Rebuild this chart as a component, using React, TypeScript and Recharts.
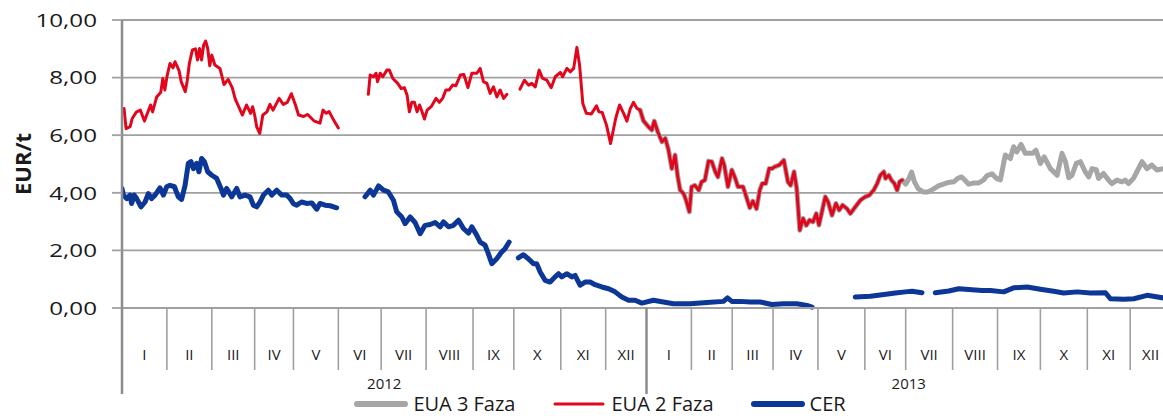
import React from 'react';
import { LineChart, Line, XAxis, YAxis, CartesianGrid, Legend } from 'recharts';

// ---------- categories / tick labels ----------
const monthLabels = ['I', 'II', 'III', 'IV', 'V', 'VI', 'VII', 'VIII', 'IX', 'X', 'XI', 'XII'];
const yearLabels = ['2012', '2013'];
// trading days per month, Jan 2012 .. Dec 2013
const monthTradingDays = [22, 22, 21, 19, 22, 21, 22, 23, 20, 23, 22, 20, 22, 20, 20, 22, 23, 20, 23, 22, 21, 23, 21, 20];
const yTicks = [0, 2, 4, 6, 8, 10];
const seriesNames = ['EUA 3 Faza', 'EUA 2 Faza', 'CER'];

// ---------- series values: [trading day, EUR/t] ----------
const eua2Points: [number, number | null][] = [
  [1, 6.93], [2, 6.23], [4, 6.3], [5, 6.58], [7, 6.8], [9, 6.87], [11, 6.49], [14, 7.05], [15, 6.81], [17, 7.33],
  [19, 7.49], [20, 7.97], [21, 7.57], [22, 8.03], [23.5, 8.49], [25, 8.34], [26, 8.55], [28, 8.23], [29, 7.86], [31, 7.51],
  [32, 7.91], [33, 8.49], [34.5, 8.96], [36, 9.0], [37, 8.61], [38, 9.01], [39, 8.61], [40, 9.13], [41, 9.27], [42, 9.01],
  [43, 8.41], [44, 8.78], [45.5, 8.44], [48, 8.32], [50, 7.76], [52, 7.94], [54, 7.65], [55.5, 7.25], [57, 7.02], [59, 6.7],
  [61, 7.05], [63, 6.76], [64, 6.99], [65, 6.7], [66, 6.29], [67.5, 6.06], [69, 6.7], [71, 6.81], [72.5, 7.07], [74, 6.87],
  [77, 7.28], [79, 7.07], [81, 7.14], [83, 7.44], [85, 7.05], [86.5, 6.7], [89, 6.65], [91, 6.72], [94, 6.5], [97, 6.42],
  [98.5, 6.87], [100, 6.76], [101.5, 6.82], [103.5, 6.55], [106, 6.25],
  [113, null],
  [120.7, 7.42], [121.6, 8.09], [123.2, 8.03], [124.5, 8.15], [125.2, 7.86], [126.5, 8.15], [127.8, 8.03], [129.8, 8.26],
  [131, 8.26], [132.7, 7.97], [135.1, 7.8], [136.8, 7.62], [138.4, 7.65], [139.7, 7.39], [140.8, 6.81], [142, 7.14],
  [143.3, 7.14], [144.6, 6.81], [145.8, 7.05], [146.9, 6.84], [148.2, 6.56], [149.5, 6.87], [151.5, 6.99], [153.9, 7.28],
  [155.5, 7.14], [157.1, 7.28], [158.7, 7.57], [160.3, 7.57], [162, 7.74], [163.6, 7.72], [165.8, 8.09], [167.5, 8.11],
  [169.5, 7.65], [171.4, 8.15], [173.9, 8.15], [175.5, 8.32], [177.1, 7.86], [178.8, 7.8], [180.4, 7.45], [182, 7.68],
  [183.7, 7.33], [185.3, 7.57], [187, 7.28], [188.6, 7.42],
  [192, null],
  [195, 7.6], [197.2, 7.91], [199.2, 7.74], [200.8, 7.8], [202.5, 7.68], [204.4, 8.26], [206.1, 7.97], [208.2, 7.91],
  [210.3, 7.65], [212.3, 8.03], [214.8, 8.18], [215.9, 8.03], [218, 8.32], [219.6, 8.2], [221.3, 8.32], [222.9, 9.05],
  [224.2, 8.44], [225.8, 7.1], [227.5, 6.76], [230, 6.74], [232.5, 7.02], [233.7, 6.81], [235.3, 6.79], [237.4, 6.35],
  [239.4, 5.71], [241.9, 6.58], [243.8, 7.05], [246, 6.72], [247.4, 6.49], [249.1, 6.93], [250.6, 7.14], [252.3, 6.93],
  [253.9, 6.87], [255.5, 6.5], [258, 6.29], [259.6, 6.18], [260.8, 6.49], [262.5, 6.12], [264.6, 5.77], [266.2, 5.89],
  [267.8, 5.48], [269.4, 4.84], [271, 5.31], [272.2, 4.61], [273.5, 4.09], [275.2, 3.97], [276.4, 3.74], [278, 3.34],
  [279.1, 4.21], [280.7, 4.26], [282.6, 4.09], [284, 4.38], [285.6, 4.44], [287.4, 5.1], [289, 5.08], [290.7, 4.73],
  [292, 4.55], [294, 5.19], [295.1, 4.96], [296.9, 4.21], [298.8, 4.79], [300.5, 4.5], [301.8, 4.21], [304.3, 4.21],
  [305.9, 3.86], [307.6, 3.48], [309.1, 3.71], [310.9, 3.45], [312.5, 4.09], [313.7, 4.32], [315.4, 4.32], [317.1, 4.84],
  [318.6, 4.84], [319.7, 4.9], [322, 4.96], [324.3, 5.13], [326.3, 4.38], [327.6, 4.26], [329.3, 4.73], [330.6, 4.15],
  [332.1, 2.7], [333.7, 3.11], [335.3, 2.87], [336.9, 3.05], [338.6, 2.99], [340.2, 3.28], [341.5, 2.88], [344.6, 3.86],
  [346, 3.68], [347.9, 3.22], [349.8, 3.63], [351.4, 3.4], [353.1, 3.57], [355.2, 3.45], [356.9, 3.28], [359.3, 3.51],
  [361.8, 3.74], [364.2, 3.86], [366.2, 3.92], [368.3, 4.09], [370, 4.32], [371.6, 4.61], [373.3, 4.73], [374.1, 4.5],
  [375.7, 4.61], [377, 4.44], [378.5, 4.32], [379.8, 4.09], [381, 4.38], [382.3, 4.44],
];

const eua3Points: [number, number | null][] = [
  [253.9, 6.87], [255.5, 6.5], [258, 6.29], [259.6, 6.18], [260.8, 6.49], [262.5, 6.12], [264.6, 5.77], [266.2, 5.89],
  [267.8, 5.48], [269.4, 4.84], [271, 5.31], [272.2, 4.61], [273.5, 4.09], [275.2, 3.97], [276.4, 3.74], [278, 3.34],
  [279.1, 4.21], [280.7, 4.26], [282.6, 4.09], [284, 4.38], [285.6, 4.44], [287.4, 5.1], [289, 5.08], [290.7, 4.73],
  [292, 4.55], [294, 5.19], [295.1, 4.96], [296.9, 4.21], [298.8, 4.79], [300.5, 4.5], [301.8, 4.21], [304.3, 4.21],
  [305.9, 3.86], [307.6, 3.48], [309.1, 3.71], [310.9, 3.45], [312.5, 4.09], [313.7, 4.32], [315.4, 4.32], [317.1, 4.84],
  [318.6, 4.84], [319.7, 4.9], [322, 4.96], [324.3, 5.13], [326.3, 4.38], [327.6, 4.26], [329.3, 4.73], [330.6, 4.15],
  [332.1, 2.7], [333.7, 3.11], [335.3, 2.87], [336.9, 3.05], [338.6, 2.99], [340.2, 3.28], [341.5, 2.88], [344.6, 3.86],
  [346, 3.68], [347.9, 3.22], [349.8, 3.63], [351.4, 3.4], [353.1, 3.57], [355.2, 3.45], [356.9, 3.28], [359.3, 3.51],
  [361.8, 3.74], [364.2, 3.86], [366.2, 3.92], [368.3, 4.09], [370, 4.32], [371.6, 4.61], [373.3, 4.73], [374.1, 4.5],
  [375.7, 4.61], [377, 4.44], [378.5, 4.32], [379.8, 4.09], [381, 4.38], [382.3, 4.44],
  [384, 4.3], [385.6, 4.5], [386.9, 4.72], [388.2, 4.4], [390, 4.15], [392.5, 4.03], [395, 4.03], [397.5, 4.13],
  [400, 4.24], [402.5, 4.3], [405, 4.36], [407.5, 4.38], [409.5, 4.5], [411.4, 4.55], [413.3, 4.42], [414.9, 4.3],
  [417.4, 4.34], [419.8, 4.34], [422.2, 4.45], [423.9, 4.6], [426.3, 4.66], [428.5, 4.5], [430.4, 4.45], [432.8, 5.31],
  [435.3, 5.19], [436.9, 5.6], [438.5, 5.42], [440.5, 5.68], [442.6, 5.37], [446.2, 5.37], [447.8, 5.48], [450, 5.02],
  [451.9, 5.25], [454.9, 4.84], [458.2, 4.61], [460.6, 5.37], [462.3, 5.08], [463.9, 4.52], [465.5, 4.61], [467.6, 5.02],
  [469.6, 5.08], [472, 4.73], [473.7, 4.55], [475.3, 4.84], [477.4, 4.8], [478.5, 4.5], [480.9, 4.67], [483.4, 4.44],
  [485, 4.32], [487.5, 4.44], [489.9, 4.38], [491.5, 4.44], [493.2, 4.32], [495.6, 4.5], [497.3, 4.73], [499.8, 5.08],
  [502.2, 4.84], [504.6, 4.96], [507.1, 4.79], [510.3, 4.84], [514, 4.9],
];

const cerPoints: [number, number | null][] = [
  [0, 4.15], [0.7, 3.92], [2.3, 3.8], [3.9, 3.92], [4.7, 3.63], [6, 3.92], [7.2, 3.8], [9.3, 3.51], [11.3, 3.68],
  [12.9, 3.97], [14.5, 3.8], [16.2, 3.92], [18.6, 4.17], [20.3, 3.92], [21.9, 4.21], [23.5, 4.26], [25.7, 4.21],
  [27.6, 3.86], [29.2, 3.77], [30.9, 4.26], [32.5, 5.02], [33.8, 5.08], [35, 4.84], [36.6, 5.02], [37.7, 4.73],
  [39, 5.19], [40.4, 5.08], [42, 4.73], [44, 4.61], [46.4, 4.5], [48.5, 4.15], [49.7, 3.92], [51.3, 4.15], [53.8, 3.86],
  [56.2, 4.15], [57.8, 3.86], [60.3, 3.92], [62.7, 3.86], [64.4, 3.57], [66, 3.51], [67.6, 3.68], [69.3, 3.92],
  [71.7, 4.09], [73.4, 3.92], [75.8, 4.09], [78.3, 3.92], [80.7, 3.92], [82.4, 3.8], [84, 3.62], [85.6, 3.57],
  [88, 3.68], [90.5, 3.63], [93, 3.65], [95.4, 3.43], [97, 3.63], [99.5, 3.57], [102, 3.55], [105.2, 3.48],
  [112, null],
  [119.1, 3.86], [121.6, 4.09], [123.2, 3.92], [125.7, 4.24], [128.1, 4.09], [130.5, 4.03], [133, 3.74], [134.6, 3.34],
  [137.1, 3.16], [138.7, 2.93], [141.2, 3.16], [143.6, 2.97], [146.1, 2.58], [148.5, 2.87], [151, 2.9], [153.4, 2.97],
  [155.9, 2.82], [157.5, 2.99], [160, 2.82], [162.4, 2.87], [164.9, 3.05], [167.3, 2.76], [169.8, 2.6], [171.4, 2.82],
  [173.8, 2.53], [175.5, 2.29], [177.9, 2.18], [179.5, 1.89], [181.2, 1.54], [183.6, 1.71], [186.1, 1.95], [187.7, 2.06],
  [189.7, 2.29],
  [192, null],
  [194.2, 1.74], [196.7, 1.85], [199.1, 1.71], [201.6, 1.54], [203.2, 1.54], [204.9, 1.25], [207.3, 0.96], [209.8, 0.9],
  [212.2, 1.08], [213.9, 1.19], [215.5, 1.08], [217.9, 1.19], [220.4, 1.08], [222, 1.13], [224.5, 0.79], [226.9, 0.9],
  [229.4, 0.9], [231.8, 0.81], [235.1, 0.73], [238.4, 0.67], [241.6, 0.56], [244.9, 0.38], [248.2, 0.27], [251.4, 0.27],
  [254.7, 0.17], [260.4, 0.27], [265.3, 0.21], [270.2, 0.15], [278.4, 0.15], [286.6, 0.19], [294.7, 0.23], [296.7, 0.35],
  [298.8, 0.23], [302.9, 0.23], [307.8, 0.21], [312.7, 0.21], [318.4, 0.12], [324.2, 0.15], [330.7, 0.15], [335.6, 0.09],
  [338.1, 0.03],
  [348, null],
  [359.3, 0.38], [366.7, 0.41], [372.4, 0.46], [378.9, 0.52], [383.8, 0.56], [387.1, 0.58], [392, 0.53],
  [395, null],
  [398.5, 0.53], [405.1, 0.59], [410, 0.67], [414.9, 0.64], [421.4, 0.61], [425.5, 0.61], [432, 0.56], [436.9, 0.7],
  [443.5, 0.73], [450, 0.65], [456.5, 0.58], [461.4, 0.52], [468, 0.56], [474.5, 0.52], [481.9, 0.53], [484.3, 0.32],
  [490.9, 0.3], [495.8, 0.32], [502.3, 0.44], [510.3, 0.35], [514, 0.34],
];

// ---------- derived tables ----------
const toRows = (pts: [number, number | null][]) => pts.map(([day, value]) => ({ day, value }));
const eua3Data = toRows(eua3Points);
const eua2Data = toRows(eua2Points);
const cerData = toRows(cerPoints);

const boundaries: number[] = [0];
monthTradingDays.forEach((n) => boundaries.push(boundaries[boundaries.length - 1] + n));
const totalDays = boundaries[boundaries.length - 1];

type TickInfo = { kind: 'boundary' | 'month' | 'year'; label?: string; yearEdge?: boolean };
const tickInfo = new Map<number, TickInfo>();
boundaries.forEach((b, i) => tickInfo.set(b, { kind: 'boundary', yearEdge: i % 12 === 0 }));
monthTradingDays.forEach((n, i) => tickInfo.set(boundaries[i] + n / 2, { kind: 'month', label: monthLabels[i % 12] }));
yearLabels.forEach((y, i) => tickInfo.set((boundaries[i * 12] + boundaries[i * 12 + 12]) / 2, { kind: 'year', label: y }));
const xTicks = Array.from(tickInfo.keys()).sort((a, b) => a - b);

const FONT = "'Open Sans', 'Noto Sans', sans-serif";
const GRID = '#a0a0a0';
const TEXT = '#1a1a1a';

const seriesStyle: Record<string, { color: string; width: number }> = {
  'EUA 3 Faza': { color: '#a6a6a6', width: 5 },
  'EUA 2 Faza': { color: '#e2061d', width: 3 },
  CER: { color: '#0c3796', width: 5 },
};

const XTick = (props: any) => {
  const { x, y, payload } = props;
  const info = tickInfo.get(payload.value);
  if (!info) return <g />;
  if (info.kind === 'boundary') {
    return (
      <line x1={x} x2={x} y1={y} y2={y + (info.yearEdge ? 86 : 62)}
        stroke={info.yearEdge ? '#8c8c8c' : GRID} strokeWidth={info.yearEdge ? 2.5 : 1.6} />
    );
  }
  if (info.kind === 'month') {
    return (
      <text x={x} y={y + 52} textAnchor="middle" fontFamily={FONT} fontSize={15} fill={TEXT}>{info.label}</text>
    );
  }
  return (
    <text x={x} y={y + 81} textAnchor="middle" fontFamily={FONT} fontSize={15} fill={TEXT}>{info.label}</text>
  );
};

const YTick = (props: any) => {
  const { x, y, payload } = props;
  return (
    <g transform={`translate(${x},${y})`}>
      <text x={0} y={0} dy="0.36em" textAnchor="end" transform="scale(1.3,1)" fontFamily={FONT} fontSize={18.6} fill={TEXT}>
        {Number(payload.value).toFixed(2).replace('.', ',')}
      </text>
    </g>
  );
};

const YTitle = (props: any) => {
  const vb = props.viewBox || { x: 0, y: 20, width: 122, height: 288 };
  const cx = vb.x + 22;
  const cy = vb.y + vb.height / 2;
  return (
    <text x={cx} y={cy} transform={`rotate(-90, ${cx}, ${cy})`} textAnchor="middle" dominantBaseline="central"
      fontFamily={FONT} fontWeight={700} fontSize={22} fill={TEXT}>EUR/t</text>
  );
};

const LegendContent = () => (
  <div style={{ height: 28, display: 'flex', justifyContent: 'center', alignItems: 'flex-start', paddingLeft: 28, fontFamily: FONT, fontSize: 20, color: TEXT }}>
    {seriesNames.map((name, i) => (
      <div key={name} style={{ display: 'flex', alignItems: 'center', marginRight: i < seriesNames.length - 1 ? 36 : 0, height: 24 }}>
        <svg width={56} height={10} style={{ display: 'block' }}>
          <line x1={4} x2={52} y1={5} y2={5} stroke={seriesStyle[name].color}
            strokeWidth={name === 'EUA 2 Faza' ? 3 : 6} strokeLinecap="round" />
        </svg>
        <span style={{ marginLeft: 4, lineHeight: '24px', whiteSpace: 'nowrap' }}>{name}</span>
      </div>
    ))}
  </div>
);

export default function App() {
  return (
    <div style={{ position: 'absolute', left: 0, top: 0, width: 1163, height: 420, overflow: 'hidden', background: '#ffffff' }}>
      <LineChart width={1180} height={420} margin={{ top: 20, right: 9, bottom: 0, left: 0 }}>
        <CartesianGrid vertical={false} stroke={GRID} strokeWidth={1.8} />
        <XAxis type="number" dataKey="day" domain={[0, totalDays]} ticks={xTicks} interval={0}
          tick={(p: any) => <XTick {...p} />} tickLine={false} tickSize={0} tickMargin={0}
          axisLine={{ stroke: GRID, strokeWidth: 1.8 }} height={84} allowDataOverflow />
        <YAxis type="number" domain={[0, 10]} ticks={yTicks} width={122} tickSize={10} tickMargin={15}
          tick={(p: any) => <YTick {...p} />} tickLine={{ stroke: GRID, strokeWidth: 1.8 }}
          axisLine={{ stroke: '#8c8c8c', strokeWidth: 2.5 }} label={(p: any) => <YTitle {...p} />} />
        <Legend verticalAlign="bottom" align="center" content={() => <LegendContent />} />
        <Line data={eua3Data} dataKey="value" name={seriesNames[0]} type="linear" stroke={seriesStyle[seriesNames[0]].color}
          strokeWidth={seriesStyle[seriesNames[0]].width} dot={false} activeDot={false} connectNulls={false}
          isAnimationActive={false} strokeLinejoin="round" strokeLinecap="round" />
        <Line data={eua2Data} dataKey="value" name={seriesNames[1]} type="linear" stroke={seriesStyle[seriesNames[1]].color}
          strokeWidth={seriesStyle[seriesNames[1]].width} dot={false} activeDot={false} connectNulls={false}
          isAnimationActive={false} strokeLinejoin="round" strokeLinecap="round" />
        <Line data={cerData} dataKey="value" name={seriesNames[2]} type="linear" stroke={seriesStyle[seriesNames[2]].color}
          strokeWidth={seriesStyle[seriesNames[2]].width} dot={false} activeDot={false} connectNulls={false}
          isAnimationActive={false} strokeLinejoin="round" strokeLinecap="round" />
      </LineChart>
    </div>
  );
}
